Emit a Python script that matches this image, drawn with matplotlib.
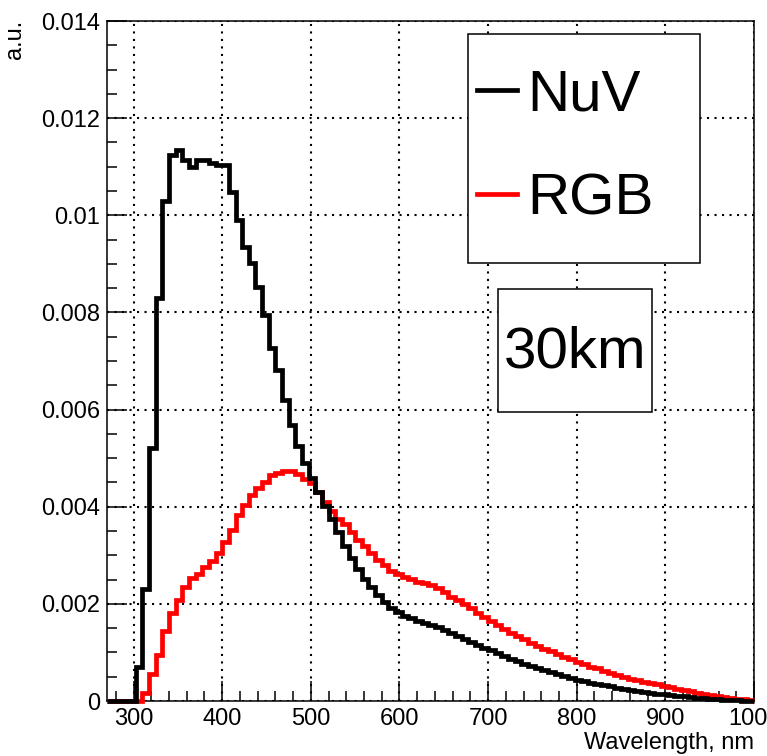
import numpy as np
import matplotlib
matplotlib.use("Agg")
import matplotlib.pyplot as plt
from matplotlib.patches import Rectangle
from matplotlib.ticker import MultipleLocator, FuncFormatter

plt.rcParams['font.family'] = ['Liberation Sans', 'DejaVu Sans']

# binning: 7.5 nm bins ending at 1000 nm, axis starts at 270 nm (first bin partly cut)
x_min, x_max = 270.0, 1000.0
bin_width = 7.5
first_edge = 272.5

# first value is the cut bin 270-272.5, then one value per 7.5 nm bin
nuv_counts = [0.0,
              0.0, 0.0, 0.0, 0.0, 0.0007, 0.0023, 0.0052, 0.0083, 0.0103, 0.01125,
              0.01135, 0.01113, 0.01099, 0.01114, 0.01114, 0.01108, 0.01103, 0.01103, 0.01048, 0.0099,
              0.00935, 0.00901, 0.00853, 0.00795, 0.00726, 0.00682, 0.0062, 0.00568, 0.00524, 0.0049,
              0.0046, 0.0043, 0.00402, 0.00375, 0.00347, 0.0032, 0.00295, 0.00272, 0.00252, 0.00234,
              0.00218, 0.00204, 0.00192, 0.00183, 0.00176, 0.0017, 0.00165, 0.00161, 0.00157, 0.00152,
              0.00146, 0.0014, 0.00134, 0.00128, 0.00122, 0.00116, 0.0011, 0.00104, 0.00098, 0.00092,
              0.00087, 0.00082, 0.00077, 0.00072, 0.00067, 0.00063, 0.00059, 0.00055, 0.00051, 0.00047,
              0.00044, 0.00041, 0.00038, 0.00035, 0.00032, 0.0003, 0.00027, 0.00025, 0.00023, 0.00021,
              0.00019, 0.00017, 0.00015, 0.00014, 0.00012, 0.00011, 0.0001, 0.00008, 0.00007, 0.00006,
              0.00005, 0.00004, 0.00003, 0.00003, 0.00002, 0.00001, 0.00001]

rgb_counts = [0.0,
              0.0, 0.0, 0.0, 0.0, 0.0, 0.00017, 0.00055, 0.00095, 0.00144, 0.00181,
              0.00208, 0.00235, 0.00254, 0.00262, 0.00275, 0.00288, 0.00304, 0.00328, 0.00352, 0.00383,
              0.00404, 0.00425, 0.00438, 0.00451, 0.00465, 0.00469, 0.00473, 0.00473, 0.00467, 0.00457,
              0.00448, 0.00431, 0.0041, 0.00391, 0.00375, 0.00364, 0.00347, 0.00332, 0.0032, 0.00305,
              0.00291, 0.0028, 0.00268, 0.00261, 0.00256, 0.00251, 0.00246, 0.00242, 0.00238, 0.00232,
              0.00224, 0.00215, 0.00208, 0.00199, 0.00191, 0.00181, 0.00173, 0.00164, 0.00157, 0.00148,
              0.0014, 0.00133, 0.00127, 0.0012, 0.00114, 0.00108, 0.00102, 0.00096, 0.00091, 0.00086,
              0.00081, 0.00076, 0.00071, 0.00067, 0.00062, 0.00058, 0.00054, 0.0005, 0.00046, 0.00043,
              0.0004, 0.00037, 0.00034, 0.00031, 0.00028, 0.00025, 0.00022, 0.0002, 0.00017, 0.00015,
              0.00013, 0.00011, 0.00009, 0.00007, 0.00005, 0.00004, 0.00002]

series_labels = ["NuV", "RGB"]
x_ticks = [300, 400, 500, 600, 700, 800, 900, 1000]
y_ticks = [0, 0.002, 0.004, 0.006, 0.008, 0.01, 0.012, 0.014]

edges = np.concatenate([[x_min], np.arange(first_edge, x_max + 0.1, bin_width)])

W, H = 767, 756
fig = plt.figure(figsize=(W / 100, H / 100), dpi=100)
ax = fig.add_axes([107 / W, 1 - 701 / H, 647 / W, 680 / H])

ax.grid(True, which="major", color="black", linestyle=(0, (1, 2.6)), linewidth=1.5)
ax.set_axisbelow(True)

red = ax.stairs(rgb_counts, edges, baseline=None, color="#ff0000", linewidth=3.4, clip_on=False, zorder=3)
black = ax.stairs(nuv_counts, edges, baseline=None, color="black", linewidth=3.4, clip_on=False, zorder=4)

ax.set_xlim(x_min, x_max)
ax.set_ylim(0, 0.014)
ax.set_xticks(x_ticks)
ax.set_yticks(y_ticks)
ax.xaxis.set_minor_locator(MultipleLocator(20))
ax.yaxis.set_minor_locator(MultipleLocator(0.0005))
ax.yaxis.set_major_formatter(FuncFormatter(lambda v, p: "%g" % v))
ax.tick_params(which="both", direction="in", top=False, right=False, width=1.1, labelsize=17)
ax.tick_params(which="major", length=14.5)
ax.tick_params(which="minor", length=7)
ax.tick_params(axis="x", pad=5)
ax.tick_params(axis="y", pad=5)
for s in ax.spines.values():
    s.set_linewidth(1.1)

fig.text(754 / W, 1 - 743 / H, "Wavelength, nm", ha="right", va="center", fontsize=17)
fig.text(15 / W, 1 - 20 / H, "a.u.", rotation=90, ha="center", va="top", fontsize=17)

# legend box and the "30km" label box
fig.patches.append(Rectangle((468 / W, 1 - 263 / H), 232 / W, 229 / H, transform=fig.transFigure,
                             facecolor="white", edgecolor="black", linewidth=1.1, zorder=1))
fig.patches.append(Rectangle((498 / W, 1 - 412 / H), 154 / W, 123 / H, transform=fig.transFigure,
                             facecolor="white", edgecolor="black", linewidth=1.1, zorder=1))

fig.legend(handles=[black, red], labels=series_labels, loc="center left",
           bbox_to_anchor=(477 / W, 1 - 147.5 / H), bbox_transform=fig.transFigure,
           frameon=False, fontsize=42, handlelength=0.69, handletextpad=0.17,
           labelspacing=0.86, borderpad=0, borderaxespad=0)

fig.text(575 / W, 1 - 352 / H, "30km", ha="center", va="center", fontsize=42, zorder=3)

fig.savefig("out.png", dpi=100)
